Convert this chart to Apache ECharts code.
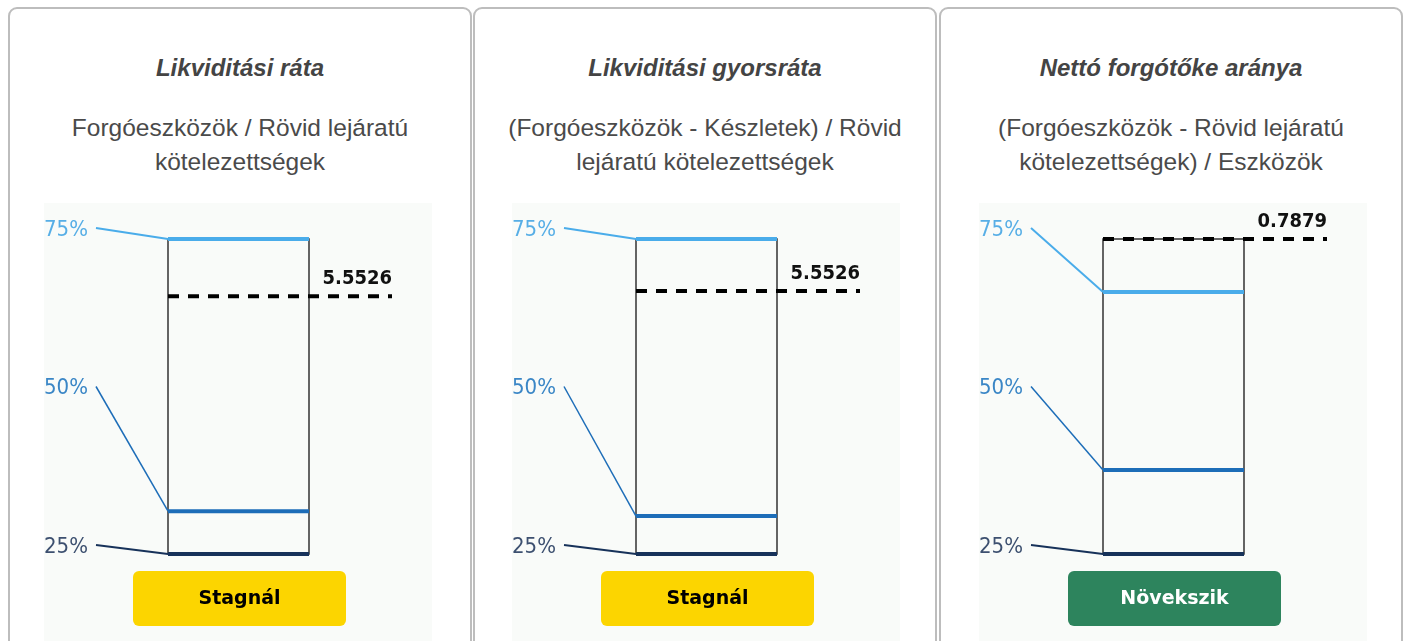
<!DOCTYPE html>
<html lang="hu">
<head>
    <meta charset="UTF-8">
    <title>Likviditási mutatók</title>
    <style>
        body { margin: 0; width: 1409px; height: 641px; overflow: hidden; position: relative; background: #fff;
               font-family: "Liberation Sans", Arial, Helvetica, sans-serif; }
        .card { position: absolute; top: 7px; width: 464px; height: 700px; box-sizing: border-box;
                border: 2px solid #bdbdbd; border-radius: 9px; }
        .title { position: absolute; top: 53px; width: 464px; text-align: center; font-size: 24px;
                 font-weight: bold; font-style: italic; color: #444; line-height: 30px; }
        .formula { position: absolute; top: 111px; width: 464px; text-align: center; font-size: 24.5px;
                   color: #4a4a4a; line-height: 34px; }
        .chart { position: absolute; top: 203px; width: 388px; height: 438px; background: #f9fbf9; }
    </style>
</head>
<body>
<div class="card" style="left:8px"></div>
<div class="card" style="left:473px"></div>
<div class="card" style="left:939px"></div>
<div class="title" id="t0" style="left:8px"></div>
<div class="title" id="t1" style="left:473px"></div>
<div class="title" id="t2" style="left:939px"></div>
<div class="formula" id="f0" style="left:8px"></div>
<div class="formula" id="f1" style="left:473px"></div>
<div class="formula" id="f2" style="left:939px"></div>
<div class="chart" id="c0" style="left:44px"></div>
<div class="chart" id="c1" style="left:512px"></div>
<div class="chart" id="c2" style="left:979px"></div>
<script src="https://cdn.jsdelivr.net/npm/echarts@6/dist/echarts.min.js"></script>
<script type="text/javascript">
    const titles = ['Likviditási ráta', 'Likviditási gyorsráta', 'Nettó forgótőke aránya'];
    const formulaLines = [
        ['Forgóeszközök / Rövid lejáratú', 'kötelezettségek'],
        ['(Forgóeszközök - Készletek) / Rövid', 'lejáratú kötelezettségek'],
        ['(Forgóeszközök - Rövid lejáratú', 'kötelezettségek) / Eszközök']
    ];
    // quartiles of the peer group and the company's own value
    const q1Values = [1.10, 0.90, 0.050];
    const medianValues = [1.84, 1.57, 0.247];
    const q3Values = [6.54, 6.47, 0.664];
    const companyValues = [5.5526, 5.5526, 0.7879];
    const companyLabels = ['5.5526', '5.5526', '0.7879'];
    const trendLabels = ['Stagnál', 'Stagnál', 'Növekszik'];
    const percentileLabels = ['75%', '50%', '25%'];

    const lineColors = ['#4aacea', '#1d6db8', '#17325a'];
    const labelColors = ['#57aee6', '#3a86c6', '#3d5070'];
    const connectorWidths = [2, 1.5, 2.2];
    const badgeColors = { 'Stagnál': ['#fcd500', '#000'], 'Növekszik': ['#2d845d', '#fff'] };

    function makeRenderer(label) {
        return function (params, api) {
            const cs = params.coordSys;
            const left = cs.x, right = cs.x + cs.width;
            const y = i => api.coord([0, api.value(i)])[1];
            const yQ1 = y(1), yMed = y(2), yQ3 = y(3), yVal = y(4);
            const yTop = Math.min(yQ1, yMed, yQ3, yVal);
            const yBot = Math.max(yQ1, yMed, yQ3, yVal);
            const lineYs = [yQ3, yMed, yQ1];
            const children = [{
                type: 'rect',
                shape: { x: left, y: yTop, width: cs.width, height: yBot - yTop },
                style: { fill: 'none', stroke: '#333', lineWidth: 1.5 }
            }];
            lineYs.forEach((ly, i) => {
                const labelY = cs.y - 11 + i * (cs.height + 2) / 2;
                children.push({
                    type: 'line',
                    shape: { x1: left - 72, y1: labelY, x2: left, y2: ly },
                    style: { stroke: lineColors[i], lineWidth: connectorWidths[i] }
                });
                children.push({
                    type: 'line',
                    shape: { x1: left, y1: ly, x2: right, y2: ly },
                    style: { stroke: lineColors[i], lineWidth: 4 }
                });
                children.push({
                    type: 'text', x: left - 124, y: labelY + 2,
                    style: { text: percentileLabels[i], fill: labelColors[i], font: '22px "DejaVu Sans Condensed"',
                             align: 'left', verticalAlign: 'middle' }
                });
            });
            children.push({
                type: 'line',
                shape: { x1: left, y1: yVal, x2: right + 83, y2: yVal },
                style: { stroke: '#000', lineWidth: 4, lineDash: [11, 9] }
            });
            children.push({
                type: 'text', x: right + 83, y: yVal - 7,
                style: { text: label, fill: '#111', font: 'bold 20px "DejaVu Sans Condensed"',
                         align: 'right', verticalAlign: 'bottom' }
            });
            return { type: 'group', children: children };
        };
    }

    for (let k = 0; k < 3; k++) {
        document.getElementById('t' + k).textContent = titles[k];
        document.getElementById('f' + k).innerHTML = formulaLines[k].join('<br>');

        const chart = echarts.init(document.getElementById('c' + k));
        const lo = Math.min(q1Values[k], companyValues[k]);
        const hi = Math.max(q3Values[k], companyValues[k]);
        const badge = badgeColors[trendLabels[k]];
        chart.setOption({
            animation: false,
            grid: { left: 124, top: 36, width: 141, height: 315 },
            xAxis: { type: 'value', min: 0, max: 1, show: false },
            yAxis: { type: 'value', min: lo, max: hi, show: false },
            series: [{
                type: 'custom',
                clip: false,
                data: [[0, q1Values[k], medianValues[k], q3Values[k], companyValues[k]]],
                renderItem: makeRenderer(companyLabels[k])
            }],
            graphic: [{
                type: 'group', left: 89, top: 368,
                children: [
                    { type: 'rect', shape: { x: 0, y: 0, width: 213, height: 55, r: 6 }, style: { fill: badge[0] } },
                    { type: 'text', x: 106.5, y: 28,
                      style: { text: trendLabels[k], fill: badge[1], font: 'bold 19px "DejaVu Sans"',
                               align: 'center', verticalAlign: 'middle' } }
                ]
            }]
        });
    }
</script>
</body>
</html>
